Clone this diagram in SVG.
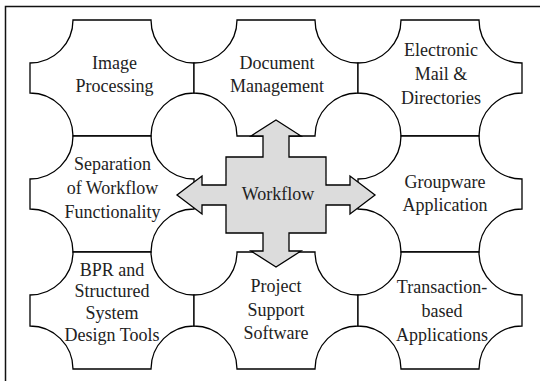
<svg xmlns="http://www.w3.org/2000/svg" width="540" height="381" viewBox="0 0 540 381">
  <style>
    .frame { fill: none; stroke: #111; stroke-width: 1.5; }
    .cell { fill: #fff; stroke: #000; stroke-width: 1.3; stroke-linejoin: miter; }
    .hub { fill: #dcdcdc; stroke: #000; stroke-width: 1.3; stroke-linejoin: miter; }
    text { font-family: "Liberation Serif", "Times New Roman", serif; font-size: 18px; fill: #222; text-anchor: middle; }
  </style>
  <rect width="540" height="381" fill="#fff"/>
  <!-- open frame: top and left rules only -->
  <path class="frame" d="M5.5,381 V6.5 H540"/>

  <!-- eight tiles, each a rectangle with concave quarter-circle corners (r=43) -->
  <g id="image-processing">
    <path class="cell" d="M73,20 H151 A43,43 0 0 0 194,63 V93 A43,43 0 0 0 151,136 H73 A43,43 0 0 0 30,93 V63 A43,43 0 0 0 73,20 Z"/>
    <text x="114.5" y="69">Image</text>
    <text x="114.5" y="92">Processing</text>
  </g>
  <g id="document-management">
    <path class="cell" d="M237,20 H315 A43,43 0 0 0 358,63 V93 A43,43 0 0 0 315,136 H237 A43,43 0 0 0 194,93 V63 A43,43 0 0 0 237,20 Z"/>
    <text x="277" y="69">Document</text>
    <text x="277" y="92">Management</text>
  </g>
  <g id="electronic-mail">
    <path class="cell" d="M401,20 H479 A43,43 0 0 0 522,63 V93 A43,43 0 0 0 479,136 H401 A43,43 0 0 0 358,93 V63 A43,43 0 0 0 401,20 Z"/>
    <text x="441" y="56">Electronic</text>
    <text x="441" y="80">Mail &amp;</text>
    <text x="441" y="104">Directories</text>
  </g>
  <g id="separation">
    <path class="cell" d="M73,136 H151 A43,43 0 0 0 194,179 V209 A43,43 0 0 0 151,252 H73 A43,43 0 0 0 30,209 V179 A43,43 0 0 0 73,136 Z"/>
    <text x="112.5" y="169.5">Separation</text>
    <text x="112.5" y="193.5">of Workflow</text>
    <text x="112.5" y="217.5">Functionality</text>
  </g>
  <g id="groupware">
    <path class="cell" d="M401,136 H479 A43,43 0 0 0 522,179 V209 A43,43 0 0 0 479,252 H401 A43,43 0 0 0 358,209 V179 A43,43 0 0 0 401,136 Z"/>
    <text x="445" y="187.5">Groupware</text>
    <text x="445" y="210.5">Application</text>
  </g>
  <g id="bpr-tools">
    <path class="cell" d="M73,252 H151 A43,43 0 0 0 194,295 V326 A43,43 0 0 0 151,369 H73 A43,43 0 0 0 30,326 V295 A43,43 0 0 0 73,252 Z"/>
    <text x="112" y="275.5">BPR and</text>
    <text x="112" y="297">Structured</text>
    <text x="112" y="319">System</text>
    <text x="112" y="341">Design Tools</text>
  </g>
  <g id="project-support">
    <path class="cell" d="M237,252 H315 A43,43 0 0 0 358,295 V326 A43,43 0 0 0 315,369 H237 A43,43 0 0 0 194,326 V295 A43,43 0 0 0 237,252 Z"/>
    <text x="276" y="292">Project</text>
    <text x="276" y="316">Support</text>
    <text x="276" y="339">Software</text>
  </g>
  <g id="transaction-based">
    <path class="cell" d="M401,252 H479 A43,43 0 0 0 522,295 V326 A43,43 0 0 0 479,369 H401 A43,43 0 0 0 358,326 V295 A43,43 0 0 0 401,252 Z"/>
    <text x="442" y="293">Transaction-</text>
    <text x="442" y="317">based</text>
    <text x="442" y="341">Applications</text>
  </g>

  <!-- central hub: four-way arrow -->
  <g id="connectors">
    <g id="workflow">
      <path class="hub" d="M276,120 L301,136 H289 V157 H326 V185 H350 V176 L375,195 L350,214 V205 H326 V233 H289 V251 H301 L276,267 L251,251 H263 V233 H226 V205 H202 V214 L177,195 L202,176 V185 H226 V157 H263 V136 H251 Z"/>
      <text x="278" y="199.5">Workflow</text>
    </g>
  </g>
</svg>
